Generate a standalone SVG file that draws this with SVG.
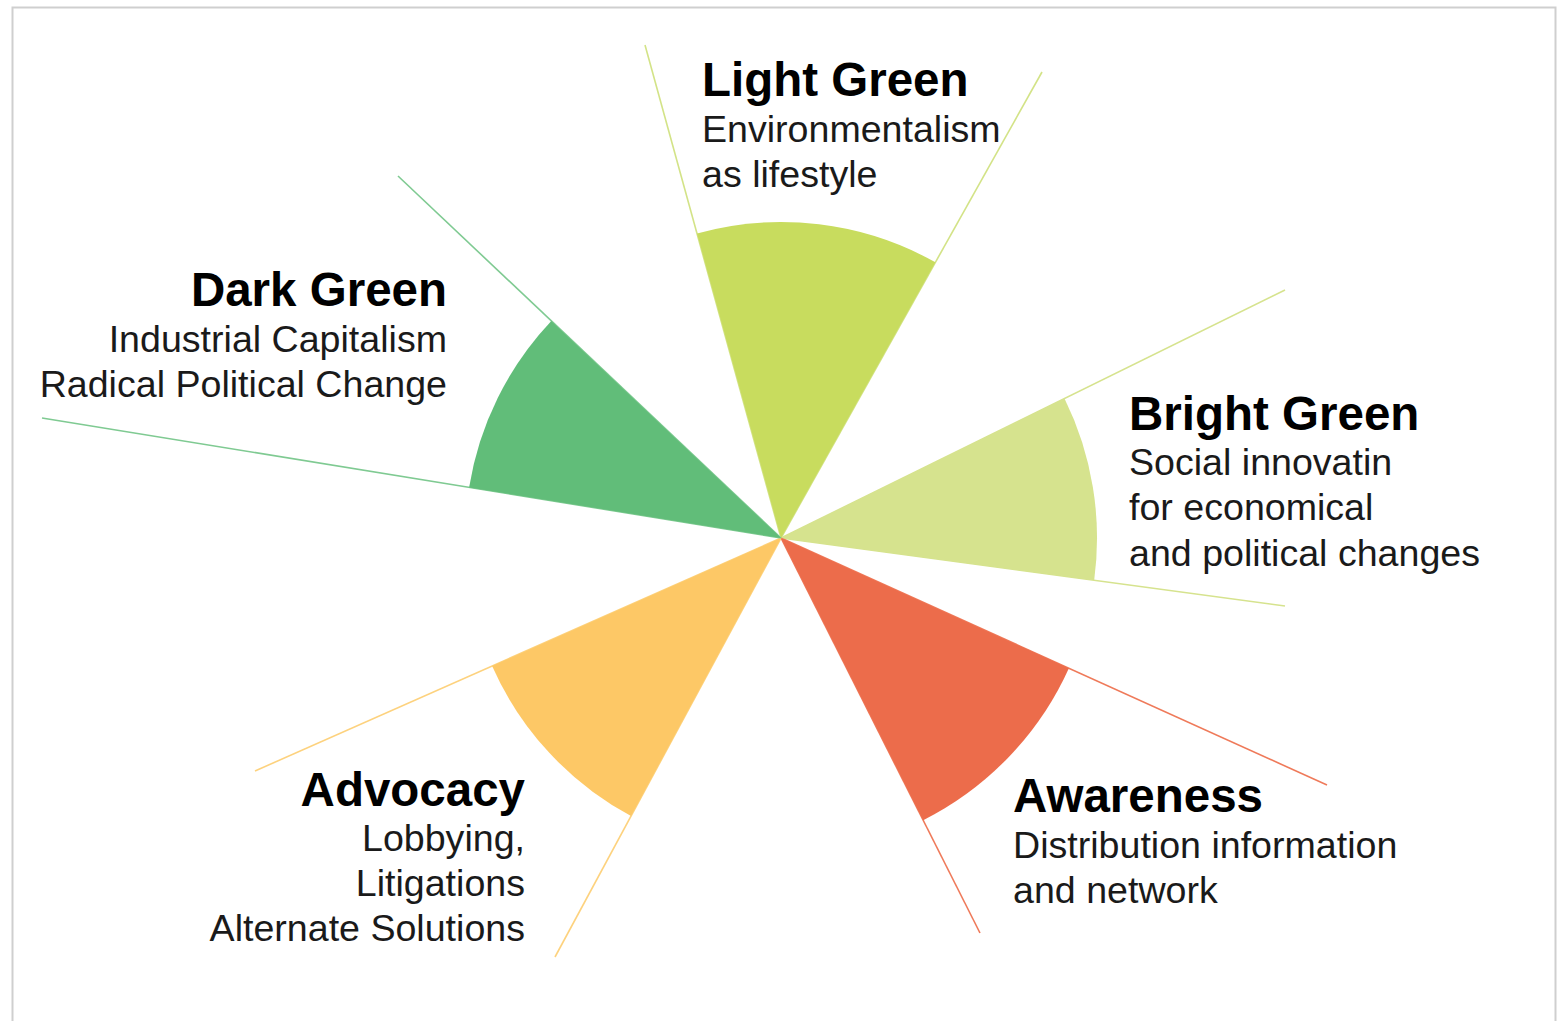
<svg xmlns="http://www.w3.org/2000/svg" width="1561" height="1021" viewBox="0 0 1561 1021">
<style>
.t{font-family:"Liberation Sans",Arial,Helvetica,sans-serif;font-weight:bold;font-size:47.5px;fill:#000}
.s{font-family:"Liberation Sans",Arial,Helvetica,sans-serif;font-size:37.6px;fill:#1a1a1a}
.r{text-anchor:end}
line{stroke-width:1.6;fill:none}
</style>
<rect x="0" y="0" width="1561" height="1021" fill="#fff"/>
<rect x="12.5" y="7.5" width="1543" height="1040" fill="#fff" stroke="#cfcfcf" stroke-width="2"/>
<g id="connectors">
<line x1="781" y1="538" x2="645" y2="45" stroke="#d3e387"/>
<line x1="781" y1="538" x2="1042" y2="72" stroke="#d3e387"/>
<line x1="781" y1="538" x2="1285" y2="290" stroke="#d6e38e"/>
<line x1="781" y1="538" x2="1285" y2="606" stroke="#d6e38e"/>
<line x1="781" y1="538" x2="1327" y2="785" stroke="#ef7a5a"/>
<line x1="781" y1="538" x2="980" y2="933" stroke="#ef7a5a"/>
<line x1="781" y1="538" x2="555" y2="957" stroke="#fdd27e"/>
<line x1="781" y1="538" x2="255" y2="771" stroke="#fdd27e"/>
<line x1="781" y1="538" x2="42" y2="418" stroke="#7fca92"/>
<line x1="781" y1="538" x2="398" y2="176" stroke="#7fca92"/>
</g>
<g id="light-green">
<path d="M781 538 L697 233.4 A316 316 0 0 1 935.4 262.3 Z" fill="#c8dc5e"/>
<text class="t" x="702" y="96">Light Green</text>
<text class="s" x="702" y="142">Environmentalism</text>
<text class="s" x="702" y="187">as lifestyle</text>
</g>
<g id="bright-green">
<path d="M781 538 L1064.5 398.5 A316 316 0 0 1 1094.2 580.2 Z" fill="#d6e38e"/>
<text class="t" x="1129" y="430">Bright Green</text>
<text class="s" x="1129" y="475">Social innovatin</text>
<text class="s" x="1129" y="520">for economical</text>
<text class="s" x="1129" y="566">and political changes</text>
</g>
<g id="awareness">
<path d="M781 538 L1068.9 668.2 A316 316 0 0 1 923.2 820.2 Z" fill="#ec6c4b"/>
<text class="t" x="1013" y="812">Awareness</text>
<text class="s" x="1013" y="858">Distribution information</text>
<text class="s" x="1013" y="903">and network</text>
</g>
<g id="advocacy">
<path d="M781 538 L631 816.1 A316 316 0 0 1 492.1 666 Z" fill="#fdc866"/>
<text class="t r" x="525" y="806">Advocacy</text>
<text class="s r" x="525" y="851">Lobbying,</text>
<text class="s r" x="525" y="896">Litigations</text>
<text class="s r" x="525" y="941">Alternate Solutions</text>
</g>
<g id="dark-green">
<path d="M781 538 L469.1 487.4 A316 316 0 0 1 551.3 320.9 Z" fill="#61bd79"/>
<text class="t r" x="447" y="306">Dark Green</text>
<text class="s r" x="447" y="352">Industrial Capitalism</text>
<text class="s r" x="447" y="397">Radical Political Change</text>
</g>
</svg>
